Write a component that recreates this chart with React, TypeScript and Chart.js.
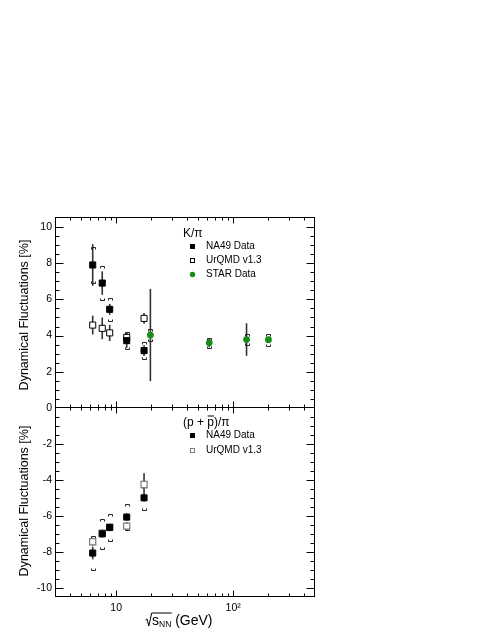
import React, { useEffect, useRef } from 'react';
import { Chart, registerables } from 'chart.js';

Chart.register(...registerables);

const FONT = '"Liberation Sans", Arial, Helvetica, sans-serif';

// Collision energies (GeV)
const NA49_SQRT_S = [6.3, 7.6, 8.8, 12.3, 17.3];
const STAR_SQRT_S = [19.6, 62.4, 130, 200];

// K/pi dynamical fluctuations [%]
const KPI_NA49 = [7.9, 6.9, 5.45, 3.72, 3.17];
const KPI_NA49_STAT = [1.15, 0.65, 0.3, 0.4, 0.3];
const KPI_NA49_SYS = [1.0, 0.95, 0.65, 0.48, 0.48];
const KPI_URQMD = [4.58, 4.4, 4.15, 3.9, 4.95];
const KPI_URQMD_ERR = [0.52, 0.6, 0.45, 0.3, 0.3];
const KPI_STAR = [4.03, 3.6, 3.78, 3.77];
const KPI_STAR_STAT = [2.55, 0.25, 0.9, 0.12];
const KPI_STAR_SYS = [0.35, 0.28, 0.3, 0.33];

// (p + pbar)/pi dynamical fluctuations [%]
const PPI_NA49 = [-8.06, -6.99, -6.64, -6.06, -4.99];
const PPI_NA49_STAT = [0.35, 0.22, 0.2, 0.2, 0.2];
const PPI_NA49_SYS = [0.95, 0.85, 0.77, 0.74, 0.65];
const PPI_URQMD = [-7.43, -6.95, -6.62, -6.56, -4.25];
const PPI_URQMD_ERR = [0.22, 0.2, 0.2, 0.22, 0.62];

// Axes / ticks
const X_MIN = 3;
const X_MAX = 500;
const X_MAJOR = [10, 100];
const X_LABELS = ['10', '10²'];
const X_MINOR = [4, 5, 6, 7, 8, 9, 20, 30, 40, 50, 60, 70, 80, 90, 200, 300, 400];
const TOP_Y_MIN = 0;
const TOP_Y_MAX = 10.55;
const BOT_Y_MIN = -10.5;
const BOT_Y_MAX = 0;
const TOP_Y_LABELS = [0, 2, 4, 6, 8, 10];
const BOT_Y_LABELS = [-10, -8, -6, -4, -2];
const Y_MAJOR_STEP = 2;
const Y_MINOR_STEP = 0.5;

const Y_TITLE = 'Dynamical Fluctuations [%]';
const TOP_HEADER = 'K/π';

const W = 491;
const H = 635;
const PLOT_LEFT = 55;
const PLOT_RIGHT = 315;
const TOP_TOP = 217;
const MID = 408;
const BOT_BOTTOM = 597;

const GREEN = '#178c17';
const GRAY = '#7c7c7c';

function pts(xs: number[], ys: number[]) {
  return xs.map((x, i) => ({ x, y: ys[i] }));
}

function drawErrors(chart: any) {
  const { ctx } = chart;
  const ys = chart.scales.y;
  chart.data.datasets.forEach((ds: any, i: number) => {
    const meta = chart.getDatasetMeta(i);
    ctx.save();
    meta.data.forEach((el: any, j: number) => {
      const v = ds.data[j].y;
      const px = el.x;
      if (ds.errStat) {
        const e = ds.errStat[j];
        ctx.strokeStyle = '#333';
        ctx.lineWidth = 1.6;
        ctx.beginPath();
        ctx.moveTo(px, ys.getPixelForValue(v + e));
        ctx.lineTo(px, ys.getPixelForValue(v - e));
        ctx.stroke();
      }
      if (ds.errSys) {
        const e = ds.errSys[j];
        ctx.strokeStyle = '#222';
        ctx.lineWidth = 1;
        const yt = Math.round(ys.getPixelForValue(v + e)) + 0.5;
        const yb = Math.round(ys.getPixelForValue(v - e)) + 0.5;
        const x0 = Math.round(px) - 1.5;
        const x1 = Math.round(px) + 2.5;
        ctx.beginPath();
        ctx.moveTo(x0, yt + 2);
        ctx.lineTo(x0, yt);
        ctx.lineTo(x1, yt);
        ctx.lineTo(x1, yt + 2);
        ctx.moveTo(x0, yb - 2);
        ctx.lineTo(x0, yb);
        ctx.lineTo(x1, yb);
        ctx.lineTo(x1, yb - 2);
        ctx.stroke();
      }
    });
    ctx.restore();
  });
}

function drawFrame(chart: any, kind: 'top' | 'bottom') {
  const { ctx, chartArea: a } = chart;
  const xs = chart.scales.x;
  const ys = chart.scales.y;
  const L = Math.round(a.left) + 0.5;
  const R = Math.round(a.right) - 0.5;
  const T = kind === 'top' ? Math.round(a.top) + 0.5 : Math.round(a.top) - 0.5;
  const B = Math.round(a.bottom) - 0.5;
  ctx.save();
  ctx.strokeStyle = '#000';
  ctx.lineWidth = 1;
  ctx.strokeRect(L, T, R - L, B - T);
  ctx.beginPath();
  const ymin = ys.min;
  const ymax = ys.max;
  const start = Math.ceil(ymin / Y_MINOR_STEP) * Y_MINOR_STEP;
  for (let v = start; v <= ymax + 1e-9; v += Y_MINOR_STEP) {
    const q = v / Y_MAJOR_STEP;
    const major = Math.abs(q - Math.round(q)) < 1e-6;
    const len = major ? 8 : 4;
    const py = Math.round(ys.getPixelForValue(v)) + 0.5;
    if (py <= T + 1 || py >= B - 1) continue;
    ctx.moveTo(L, py);
    ctx.lineTo(L + len, py);
    ctx.moveTo(R, py);
    ctx.lineTo(R - len, py);
  }
  const xt = [
    ...X_MAJOR.map((v) => ({ v, len: 6 })),
    ...X_MINOR.map((v) => ({ v, len: 3 })),
  ];
  xt.forEach(({ v, len }) => {
    const px = Math.round(xs.getPixelForValue(v)) + 0.5;
    if (px <= L + 1 || px >= R - 1) return;
    ctx.moveTo(px, B);
    ctx.lineTo(px, B - len);
    ctx.moveTo(px, T);
    ctx.lineTo(px, T + len);
  });
  ctx.stroke();
  ctx.restore();
}

function drawLegend(chart: any, kind: 'top' | 'bottom') {
  const { ctx } = chart;
  ctx.save();
  ctx.fillStyle = '#000';
  ctx.textAlign = 'left';
  ctx.textBaseline = 'alphabetic';
  ctx.font = `12px ${FONT}`;
  let rows: number[];
  if (kind === 'top') {
    ctx.fillText(TOP_HEADER, 183, 237);
    rows = [246.5, 260.5, 274.5];
  } else {
    // (p + p̄)/π with an overline on the second p
    const base = 426;
    let x = 183;
    const a1 = '(p + ';
    ctx.fillText(a1, x, base);
    x += ctx.measureText(a1).width;
    const pw = ctx.measureText('p').width;
    ctx.fillText('p', x, base);
    ctx.fillRect(x + 0.3, base - 10.5, pw - 0.3, 1);
    x += pw;
    ctx.fillText(')/π', x, base);
    rows = [435.5, 450];
  }
  const mx = 192.5;
  ctx.font = `10px ${FONT}`;
  ctx.textBaseline = 'middle';
  chart.data.datasets.forEach((ds: any, i: number) => {
    const y = rows[i];
    if (y === undefined) return;
    if (ds.pointStyle === 'circle') {
      ctx.fillStyle = ds.backgroundColor;
      ctx.beginPath();
      ctx.arc(mx, y, 2.7, 0, Math.PI * 2);
      ctx.fill();
    } else if (ds.backgroundColor === '#000') {
      ctx.fillStyle = '#000';
      ctx.fillRect(mx - 2.5, y - 2.5, 5, 5);
    } else {
      ctx.strokeStyle = ds.borderColor;
      ctx.lineWidth = 1;
      ctx.strokeRect(Math.round(mx - 2.5) + 0.5, Math.round(y - 2.5) + 0.5, 4, 4);
    }
    ctx.fillStyle = '#000';
    ctx.fillText(ds.label, 206, y);
  });
  ctx.restore();
}

function drawTitles(chart: any, kind: 'top' | 'bottom') {
  const { ctx } = chart;
  const a = chart.chartArea;
  ctx.save();
  ctx.fillStyle = '#000';
  ctx.font = `12.5px ${FONT}`;
  ctx.textAlign = 'center';
  ctx.textBaseline = 'middle';
  ctx.translate(25, kind === 'top' ? 315 : 501);
  ctx.rotate(-Math.PI / 2);
  ctx.fillText(Y_TITLE, 0, 0);
  ctx.restore();

  if (kind === 'bottom') {
    ctx.save();
    ctx.fillStyle = '#000';
    ctx.strokeStyle = '#000';
    ctx.textAlign = 'left';
    ctx.textBaseline = 'alphabetic';
    const base = 624.5;
    ctx.font = `14px ${FONT}`;
    const sW = ctx.measureText('s').width;
    const rest = ' (GeV)';
    const restW = ctx.measureText(rest).width;
    ctx.font = `8.5px ${FONT}`;
    const nnW = ctx.measureText('NN').width;
    const radW = 6.5;
    const total = radW + sW + nnW + restW;
    const cx = (a.left + a.right) / 2 - 6;
    let x = cx - total / 2;
    // radical sign
    ctx.lineWidth = 1;
    ctx.beginPath();
    ctx.moveTo(x, base - 4.5);
    ctx.lineTo(x + 1.5, base - 5.5);
    ctx.lineTo(x + 3.3, base + 1.5);
    ctx.lineTo(x + 6.2, base - 11.5);
    ctx.lineTo(x + radW + sW + nnW + 0.5, base - 11.5);
    ctx.stroke();
    x += radW;
    ctx.font = `14px ${FONT}`;
    ctx.fillText('s', x, base);
    x += sW;
    ctx.font = `8.5px ${FONT}`;
    ctx.fillText('NN', x, base + 2.5);
    x += nnW;
    ctx.font = `14px ${FONT}`;
    ctx.fillText(rest, x, base);
    ctx.restore();
  }
}

function makeDecor(kind: 'top' | 'bottom') {
  return {
    id: 'decor_' + kind,
    beforeDatasetsDraw(chart: any) {
      drawErrors(chart);
    },
    afterDraw(chart: any) {
      drawFrame(chart, kind);
      drawLegend(chart, kind);
      drawTitles(chart, kind);
    },
  };
}

function baseOptions() {
  return {
    responsive: false,
    animation: false as const,
    devicePixelRatio: 1,
    events: [] as any[],
    plugins: {
      legend: { display: false },
      tooltip: { enabled: false },
    },
  };
}

function topConfig(): any {
  return {
    type: 'scatter',
    data: {
      datasets: [
        {
          label: 'NA49 Data',
          data: pts(NA49_SQRT_S, KPI_NA49),
          pointStyle: 'rect',
          pointRadius: 4.3,
          backgroundColor: '#000',
          borderColor: '#000',
          borderWidth: 1,
          errStat: KPI_NA49_STAT,
          errSys: KPI_NA49_SYS,
        },
        {
          label: 'UrQMD v1.3',
          data: pts(NA49_SQRT_S, KPI_URQMD),
          pointStyle: 'rect',
          pointRadius: 4.3,
          backgroundColor: '#fff',
          borderColor: '#000',
          borderWidth: 1,
          errStat: KPI_URQMD_ERR,
        },
        {
          label: 'STAR Data',
          data: pts(STAR_SQRT_S, KPI_STAR),
          pointStyle: 'circle',
          pointRadius: 3.4,
          backgroundColor: GREEN,
          borderColor: GREEN,
          borderWidth: 0,
          errStat: KPI_STAR_STAT,
          errSys: KPI_STAR_SYS,
        },
      ],
    },
    options: {
      ...baseOptions(),
      layout: { padding: { left: 0, right: W - PLOT_RIGHT, top: TOP_TOP, bottom: H - MID } },
      scales: {
        x: { type: 'logarithmic', min: X_MIN, max: X_MAX, display: false },
        y: {
          type: 'linear',
          min: TOP_Y_MIN,
          max: TOP_Y_MAX,
          grid: { display: false, drawTicks: false },
          border: { display: false },
          ticks: { color: '#000', padding: 3, font: { family: FONT, size: 10.5 } },
          afterBuildTicks: (s: any) => {
            s.ticks = TOP_Y_LABELS.map((v) => ({ value: v }));
          },
          afterFit: (s: any) => {
            s.width = PLOT_LEFT;
          },
        },
      },
    },
    plugins: [makeDecor('top')],
  };
}

function bottomConfig(): any {
  return {
    type: 'scatter',
    data: {
      datasets: [
        {
          label: 'NA49 Data',
          data: pts(NA49_SQRT_S, PPI_NA49),
          pointStyle: 'rect',
          pointRadius: 4.3,
          backgroundColor: '#000',
          borderColor: '#000',
          borderWidth: 1,
          errStat: PPI_NA49_STAT,
          errSys: PPI_NA49_SYS,
        },
        {
          label: 'UrQMD v1.3',
          data: pts(NA49_SQRT_S, PPI_URQMD),
          pointStyle: 'rect',
          pointRadius: 4.3,
          backgroundColor: '#fff',
          borderColor: GRAY,
          borderWidth: 1.2,
          errStat: PPI_URQMD_ERR,
        },
      ],
    },
    options: {
      ...baseOptions(),
      layout: { padding: { left: 0, right: W - PLOT_RIGHT, top: MID, bottom: 0 } },
      scales: {
        x: {
          type: 'logarithmic',
          min: X_MIN,
          max: X_MAX,
          position: 'bottom',
          grid: { display: false, drawTicks: false },
          border: { display: false },
          ticks: {
            color: '#000',
            padding: 5,
            autoSkip: false,
            maxRotation: 0,
            font: { family: FONT, size: 10.5 },
            callback: (_v: any, i: number) => X_LABELS[i],
          },
          afterBuildTicks: (s: any) => {
            s.ticks = X_MAJOR.map((v) => ({ value: v }));
          },
          afterFit: (s: any) => {
            s.height = H - BOT_BOTTOM;
          },
        },
        y: {
          type: 'linear',
          min: BOT_Y_MIN,
          max: BOT_Y_MAX,
          grid: { display: false, drawTicks: false },
          border: { display: false },
          ticks: { color: '#000', padding: 3, font: { family: FONT, size: 10.5 } },
          afterBuildTicks: (s: any) => {
            s.ticks = BOT_Y_LABELS.map((v) => ({ value: v }));
          },
          afterFit: (s: any) => {
            s.width = PLOT_LEFT;
          },
        },
      },
    },
    plugins: [makeDecor('bottom')],
  };
}

export default function App() {
  const topRef = useRef<HTMLCanvasElement>(null);
  const botRef = useRef<HTMLCanvasElement>(null);

  useEffect(() => {
    const c1 = new Chart(topRef.current as HTMLCanvasElement, topConfig());
    const c2 = new Chart(botRef.current as HTMLCanvasElement, bottomConfig());
    return () => {
      c1.destroy();
      c2.destroy();
    };
  }, []);

  return (
    <div style={{ position: 'absolute', left: 0, top: 0, width: W, height: H, background: '#fff' }}>
      <canvas ref={topRef} width={W} height={H} style={{ position: 'absolute', left: 0, top: 0 }} />
      <canvas ref={botRef} width={W} height={H} style={{ position: 'absolute', left: 0, top: 0 }} />
    </div>
  );
}
